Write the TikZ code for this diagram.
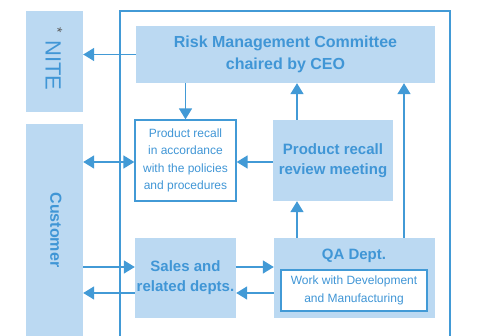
\documentclass[tikz,border=0pt]{standalone}
\usepackage{fontspec}
\setmainfont{Liberation Sans}
\usetikzlibrary{arrows.meta,calc}
\definecolor{fillb}{RGB}{187,217,242}
\definecolor{lineb}{RGB}{66,154,214}
\definecolor{textb}{RGB}{64,150,214}
\definecolor{stargray}{RGB}{90,90,90}
\begin{document}
\begin{tikzpicture}[x=1pt,y=-1pt,
  fbox/.style={draw=none,fill=fillb,inner sep=0pt,align=center,text=textb,
    font=\fontsize{15}{20}\selectfont\bfseries},
  wbox/.style={draw=lineb,line width=1.3pt,fill=white,inner sep=0pt,align=center,text=textb,
    font=\fontsize{12}{17.3}\selectfont},
  arr/.style={draw=lineb,line width=1.6pt,-{Triangle[length=11pt,width=13pt]}},
  darr/.style={draw=lineb,line width=1.6pt,{Triangle[length=11pt,width=13pt]}-{Triangle[length=11pt,width=13pt]}}
]
\useasboundingbox (0,0) rectangle (493,336);
% outer frame
\draw[lineb,line width=1.4pt] (120,336) -- (120,11) -- (450,11) -- (450,336);
% side boxes
\node[fbox,minimum width=57pt,minimum height=101pt] (nite) at (54.5,61.5) {};
\node[rotate=-90,text=textb,font=\fontsize{22}{22}\selectfont,inner sep=0pt] (nitetxt) at (54,59) {\textcolor{stargray}{\raisebox{0.6ex}{\fontsize{14}{14}\selectfont *}}\,\,NITE};
\node[fbox,minimum width=57pt,minimum height=212pt] (cust) at (54.5,230) {};
\node[rotate=-90,text=textb,font=\fontsize{16}{16}\selectfont\bfseries,inner sep=0pt] (custtxt) at (56,230) {Customer};
% main boxes
\node[fbox,minimum width=299pt,minimum height=57pt,font=\fontsize{16}{22}\selectfont\bfseries] (rmc) at (285.5,54.5) {Risk Management Committee\\chaired by CEO};
\node[wbox,minimum width=101pt,minimum height=81pt] (pr) at (185.5,160.5) {Product recall\\in accordance\\with the policies\\and procedures};
\node[fbox,minimum width=120pt,minimum height=81pt] (rev) at (333,160.5) {Product recall\\review meeting};
\node[fbox,minimum width=101pt,minimum height=80pt] (sales) at (185.5,278) {Sales and\\related depts.};
\node[fbox,minimum width=161pt,minimum height=80pt] (qa) at (354.5,278) {};
\node[text=textb,font=\fontsize{15}{20}\selectfont\bfseries,inner sep=0pt] (qatxt) at (354,256) {QA Dept.};
\node[wbox,minimum width=146pt,minimum height=41pt] (qain) at (354,290.5) {Work with Development\\and Manufacturing};
% connectors
\draw[arr] (rmc.west) -- (rmc.west -| nite.east);
\draw[arr] (rmc.south -| pr.north) -- (pr.north);
\draw[darr] ($(cust.east |- pr.west)+(0,1.5)$) -- ($(pr.west)+(0,1.5)$);
\draw[arr] ($(rev.west)+(0,1.5)$) -- ($(pr.east)+(0,1.5)$);
\coordinate (c1) at (297,0);
\coordinate (c2) at (404,0);
\draw[arr] (rev.north -| c1) -- (rmc.south -| c1);
\draw[arr] (qa.north -| c1) -- (rev.south -| c1);
\draw[arr] (qa.north -| c2) -- (rmc.south -| c2);
\coordinate (ya) at (0,267);
\coordinate (yb) at (0,293);
\draw[arr] (cust.east |- ya) -- (sales.west |- ya);
\draw[arr] (sales.west |- yb) -- (cust.east |- yb);
\draw[arr] (sales.east |- ya) -- (qa.west |- ya);
\draw[arr] (qa.west |- yb) -- (sales.east |- yb);
\end{tikzpicture}
\end{document}
